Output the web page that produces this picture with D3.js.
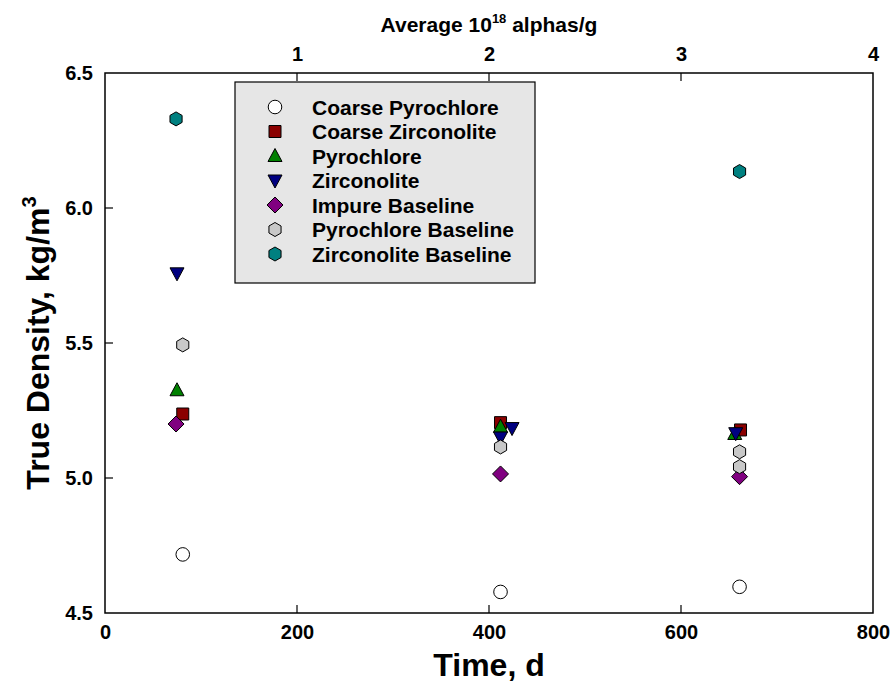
<!DOCTYPE html>
<html><head><meta charset="utf-8">
<script src="https://cdn.jsdelivr.net/npm/d3@7"></script>
<style>body{margin:0;background:#fff}svg{font-family:"Liberation Sans",Arial,sans-serif;font-weight:bold}</style>
</head><body><svg id="c" width="894" height="696"></svg>
<script>
const seriesNames = ["Coarse Pyrochlore","Coarse Zirconolite","Pyrochlore","Zirconolite","Impure Baseline","Pyrochlore Baseline","Zirconolite Baseline"];
const seriesColors = ["#ffffff","#8b0000","#008000","#000080","#800080","#c8c8c8","#008080"];
const seriesShapes = ["circle","square","triangleUp","triangleDown","diamond","hexagon","hexagon"];
const coarsePyrochloreX = [81, 412, 661]; const coarsePyrochloreY = [4.717, 4.578, 4.597];
const coarseZirconoliteX = [81, 412, 662]; const coarseZirconoliteY = [5.237, 5.205, 5.178];
const pyrochloreX = [75, 412, 656]; const pyrochloreY = [5.325, 5.19, 5.163];
const zirconoliteX = [75, 412, 424, 657]; const zirconoliteY = [5.758, 5.15, 5.185, 5.166];
const impureBaselineX = [74, 412, 661]; const impureBaselineY = [5.20, 5.015, 5.005];
const pyrochloreBaselineX = [81, 412, 661, 661]; const pyrochloreBaselineY = [5.493, 5.115, 5.097, 5.042];
const zirconoliteBaselineX = [74, 661]; const zirconoliteBaselineY = [6.330, 6.135];
const xTicks = [0,200,400,600,800];
const yTicks = [4.5,5.0,5.5,6.0,6.5];
const topTicks = [1,2,3,4];

const seriesX = [coarsePyrochloreX,coarseZirconoliteX,pyrochloreX,zirconoliteX,impureBaselineX,pyrochloreBaselineX,zirconoliteBaselineX];
const seriesY = [coarsePyrochloreY,coarseZirconoliteY,pyrochloreY,zirconoliteY,impureBaselineY,pyrochloreBaselineY,zirconoliteBaselineY];

const svg = d3.select("#c");
const L=105,R=873,T=73,B=613;
const x = d3.scaleLinear().domain([0,800]).range([L,R]);
const xTop = d3.scaleLinear().domain([0,4]).range([L,R]);
const y = d3.scaleLinear().domain([4.5,6.5]).range([B,T]);

function shapePath(shape){
  const s = 6.5;
  switch(shape){
    case "circle": return d3.symbol(d3.symbolCircle, 145)();
    case "square": return `M${-s+0.5},${-s+0.5}H${s-0.5}V${s-0.5}H${-s+0.5}Z`;
    case "triangleUp": return `M0,${-s-1}L${s+0.5},${s-1}L${-s-0.5},${s-1}Z`;
    case "triangleDown": return `M0,${s+1}L${s+0.5},${-s+1}L${-s-0.5},${-s+1}Z`;
    case "diamond": return `M0,${-s-1.5}L${s+1.5},0L0,${s+1.5}L${-s-1.5},0Z`;
    case "hexagon": { const r=s+0.5, w=r*0.866; return `M0,${-r}L${w},${-r/2}L${w},${r/2}L0,${r}L${-w},${r/2}L${-w},${-r/2}Z`; }
  }
}

// frame
svg.append("rect").attr("x",L).attr("y",T).attr("width",R-L).attr("height",B-T)
  .attr("fill","none").attr("stroke","#000").attr("stroke-width",1.5);

const tickFont = g => g.selectAll("text").attr("font-size",20).attr("font-family","Liberation Sans, Arial").attr("font-weight","bold").attr("fill","#000");

// bottom axis
const gB = svg.append("g").attr("transform",`translate(0,${B})`)
  .call(d3.axisBottom(x).tickValues(xTicks).tickSize(0).tickPadding(12).tickFormat(d3.format("d")));
gB.select(".domain").remove(); tickFont(gB);
svg.append("g").selectAll("line").data(xTicks.slice(1,-1)).join("line")
  .attr("x1",d=>x(d)).attr("x2",d=>x(d)).attr("y1",B).attr("y2",B-8).attr("stroke","#000").attr("stroke-width",1.2);

// top axis
const gT = svg.append("g").attr("transform",`translate(0,${T})`)
  .call(d3.axisTop(xTop).tickValues(topTicks).tickSize(0).tickPadding(12).tickFormat(d3.format("d")));
gT.select(".domain").remove(); tickFont(gT);
svg.append("g").selectAll("line").data(topTicks.slice(0,-1)).join("line")
  .attr("x1",d=>xTop(d)).attr("x2",d=>xTop(d)).attr("y1",T).attr("y2",T+8).attr("stroke","#000").attr("stroke-width",1.2);

// left axis
const gL = svg.append("g").attr("transform",`translate(${L},0)`)
  .call(d3.axisLeft(y).tickValues(yTicks).tickSize(0).tickPadding(12).tickFormat(d3.format(".1f")));
gL.select(".domain").remove(); tickFont(gL);
svg.append("g").selectAll("line").data(yTicks.slice(1,-1)).join("line")
  .attr("x1",L).attr("x2",L+8).attr("y1",d=>y(d)).attr("y2",d=>y(d)).attr("stroke","#000").attr("stroke-width",1.2);

// titles
svg.append("text").attr("x",(L+R)/2).attr("y",676).attr("text-anchor","middle").attr("font-size",32).text("Time, d");
const yt = svg.append("text").attr("transform",`translate(49,${(T+B)/2}) rotate(-90)`).attr("text-anchor","middle").attr("font-size",32);
yt.append("tspan").text("True Density, kg/m");
yt.append("tspan").attr("font-size",20).attr("dy",-13).text("3");
const tt = svg.append("text").attr("x",(L+R)/2).attr("y",32).attr("text-anchor","middle").attr("font-size",21);
tt.append("tspan").text("Average 10");
tt.append("tspan").attr("font-size",13).attr("dy",-9).text("18");
tt.append("tspan").attr("dy",9).text(" alphas/g");

// points
seriesNames.forEach((name,i)=>{
  const pts = seriesX[i].map((xv,j)=>[xv,seriesY[i][j]]);
  svg.append("g").selectAll("path").data(pts).join("path")
    .attr("d",shapePath(seriesShapes[i]))
    .attr("transform",d=>`translate(${x(d[0])},${y(d[1])})`)
    .attr("fill",seriesColors[i]).attr("stroke","#000").attr("stroke-width",1);
});

// legend
const lg = svg.append("g");
lg.append("rect").attr("x",235).attr("y",82).attr("width",300).attr("height",201)
  .attr("fill","#e6e6e6").attr("stroke","#000").attr("stroke-width",1.2);
seriesNames.forEach((name,i)=>{
  const yy = 107 + i*24.5;
  lg.append("path").attr("d",shapePath(seriesShapes[i])).attr("transform",`translate(275,${yy})`)
    .attr("fill",seriesColors[i]).attr("stroke","#000").attr("stroke-width",1);
  lg.append("text").attr("x",312).attr("y",yy+7.5).attr("font-size",21).text(name);
});
</script></body></html>
